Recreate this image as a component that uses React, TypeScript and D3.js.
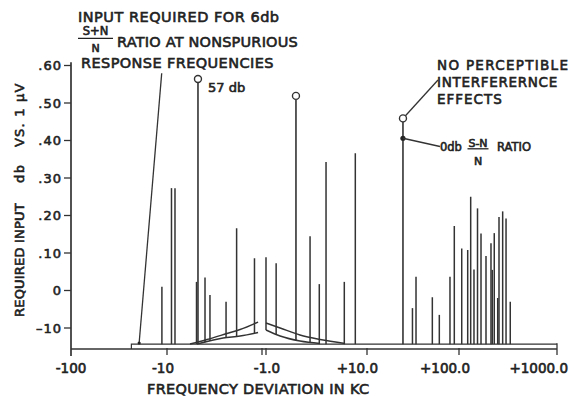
import React from "react";
import * as d3 from "d3";

// ---------- data ----------
const xTickValues = [-100, -10, -1, 1, 10, 100, 1000];
const xTickLabels = ["-100", "-10", "-1.0", "", "+10.0", "+100.0", "+1000.0"];
const yTickValues = [60, 50, 40, 30, 20, 10, 0, -10];
const yTickLabels = [".60", ".50", ".40", ".30", ".20", ".10", "0", "–10"];

// spurious responses (frequency deviation in kc, required input db)
const spikeFreq = [
  -11.3, -8.97, -8.24, -4.89, -3.98, -3.53, -2.39, -1.85, -1.2, 1.0, 1.26,
  2.73, 3.37, 3.93, 5.96, 7.66, 31.2, 34.1, 51.3, 61.1, 79.8, 88.9, 106.6,
  122.7, 131.6, 142.2, 154.5, 167.7, 188.6, 212, 218.6, 229, 248.3, 256, 279,
  302, 333.5,
];
const spikeDb = [
  1.0, 27.3, 27.3, 2.3, 3.5, -1.2, -3.0, 16.6, 8.6, 8.9, 7.3, 14.5, 1.7, 34.3,
  2.3, 36.6, -4.7, 3.7, -1.8, -6.5, 3.7, 17.2, 11.2, 10.8, 25.0, 5.6, 21.9,
  15.2, 9.2, 12.6, 5.5, 15.3, -2.0, 19.6, 21.1, 19.2, -3.0,
];

// responses marked with open circles
const markedFreq = [-4.72, 1.98, 24.6];
const markedDb = [56.4, 51.9, 45.9];
// 0 db (S-N)/N point
const zeroSnFreq = 24.6;
const zeroSnDb = 40.6;

// selectivity (non-spurious) curves
const leftUpperFreq = [-5.73, -3.79, -2.34, -1.7, -1.1];
const leftUpperDb = [-14.27, -13.07, -11.47, -10.4, -8.4];
const leftLowerFreq = [-4.83, -2.57, -1.7, -1.1];
const leftLowerDb = [-14.27, -12.67, -12.13, -11.2];
const rightUpperFreq = [1.0, 1.38, 2.17, 3.43, 6.06];
const rightUpperDb = [-8.67, -10.0, -11.87, -13.07, -14.13];
const rightLowerFreq = [1.0, 1.38, 2.17, 3.43];
const rightLowerDb = [-10.53, -12.13, -13.47, -14.13];

const floorDb = -14.3;
const bandStartFreq = -23.5;
const axisBottomDb = -15.6;
const axisTopDb = 60.9;
const leaderEndFreq = -19.5;
const leaderEndDb = -14.0;

// ---------- scales ----------
const GAP = 0.04;
const toU = (f: number) => (f < 0 ? -Math.log10(-f) : Math.log10(f) + GAP);
const xu = d3
  .scaleLinear()
  .domain(xTickValues.map(toU))
  .range([71, 167, 262, 266, 367, 459, 557]);
const x = (f: number) => xu(toU(f));
const y = d3.scaleLinear().domain([-10, 60]).range([328, 65.5]);

const INK = "#222";
const LINE = "#333";
const FONT = "DejaVu Sans";

function interp(fs: number[], ds: number[], f: number): number | null {
  const px = x(f);
  const xs = fs.map(x);
  const lo = Math.min(xs[0], xs[xs.length - 1]);
  const hi = Math.max(xs[0], xs[xs.length - 1]);
  if (px < lo || px > hi) return null;
  const s = d3.scaleLinear().domain(xs).range(ds).clamp(true);
  return s(px);
}
function baseAt(f: number) {
  const a = interp(leftLowerFreq, leftLowerDb, f);
  if (a !== null) return a;
  const b = interp(rightLowerFreq, rightLowerDb, f);
  if (b !== null) return b;
  return floorDb;
}

const curve = d3
  .line<[number, number]>()
  .x((d) => x(d[0]))
  .y((d) => y(d[1]))
  .curve(d3.curveMonotoneX);

const T = (props: any) => (
  <text
    fontFamily={FONT}
    fill={INK}
    stroke={INK}
    strokeWidth={0.6}
    {...props}
  />
);

export default function App() {
  const yAxisX = x(-100);
  const axisY = y(axisBottomDb);
  const curves = [
    [leftUpperFreq, leftUpperDb],
    [leftLowerFreq, leftLowerDb],
    [rightUpperFreq, rightUpperDb],
    [rightLowerFreq, rightLowerDb],
  ].map(([fs, ds]) => curve(fs.map((f, i) => [f, ds[i]] as [number, number])));

  const bigX = x(zeroSnFreq);
  return (
    <svg
      width={576}
      height={396}
      viewBox="0 0 576 396"
      style={{ position: "absolute", left: 0, top: 0, background: "#fff" }}
    >
      <rect x={0} y={0} width={576} height={396} fill="#fff" />
      {/* axes */}
      <line x1={yAxisX} x2={yAxisX} y1={y(axisTopDb)} y2={axisY + 7} stroke={LINE} strokeWidth={1.7} />
      <line x1={yAxisX} x2={x(1000)} y1={axisY} y2={axisY} stroke={LINE} strokeWidth={1.7} />
      {yTickValues.map((v, i) => (
        <g key={"yt" + i}>
          <line x1={yAxisX - 7} x2={yAxisX} y1={y(v)} y2={y(v)} stroke={LINE} strokeWidth={1.3} />
          <T x={yAxisX - 9} y={y(v) + 4.5} fontSize={13} textAnchor="end" letterSpacing={1}>
            {yTickLabels[i]}
          </T>
        </g>
      ))}
      {xTickValues.map((v, i) =>
        i === 0 ? null : (
          <line
            key={"xt" + i}
            x1={x(v)}
            x2={x(v)}
            y1={i === xTickValues.length - 1 ? y(floorDb) - 1 : axisY - 1}
            y2={axisY + 6}
            stroke={LINE}
            strokeWidth={1.3}
          />
        )
      )}
      {xTickValues.map((v, i) => (
        <T
          key={"xl" + i}
          x={v > 1 ? x(v) + 11 : x(v) + (v === -1 ? 5 : v === -10 ? -4 : 0)}
          y={373}
          fontSize={13.5}
          textAnchor={v > 1 ? "end" : "middle"}
        >
          {xTickLabels[i]}
        </T>
      ))}
      {/* floor band */}
      <path
        d={`M${x(bandStartFreq)},${axisY}V${y(floorDb)}H${x(1000)}`}
        fill="none"
        stroke={LINE}
        strokeWidth={1.2}
      />
      {/* selectivity curves */}
      {curves.map((d, i) => (
        <path key={"c" + i} d={d || ""} fill="none" stroke={LINE} strokeWidth={1.4} />
      ))}
      {/* spikes */}
      {spikeFreq.map((f, i) => (
        <line
          key={"s" + i}
          x1={x(f)}
          x2={x(f)}
          y1={y(baseAt(f))}
          y2={y(spikeDb[i])}
          stroke={LINE}
          strokeWidth={1.5}
        />
      ))}
      {markedFreq.map((f, i) => (
        <g key={"m" + i}>
          <line x1={x(f)} x2={x(f)} y1={y(baseAt(f))} y2={y(markedDb[i]) + 3.5} stroke={LINE} strokeWidth={1.6} />
          <circle cx={x(f)} cy={y(markedDb[i])} r={3.5} fill="#fff" stroke={LINE} strokeWidth={1.4} />
        </g>
      ))}
      <circle cx={bigX} cy={y(zeroSnDb)} r={2.6} fill={INK} />

      {/* top-left annotation */}
      <T x={78} y={21.5} fontSize={14.5} letterSpacing={0.5}>INPUT REQUIRED FOR 6db</T>
      <T x={95.5} y={35} fontSize={11.5} textAnchor="middle">S+N</T>
      <line x1={78} x2={113} y1={38.3} y2={38.3} stroke={INK} strokeWidth={1.3} />
      <T x={95.5} y={52} fontSize={11} textAnchor="middle">N</T>
      <T x={117} y={46.5} fontSize={14.5} letterSpacing={0.2}>RATIO AT NONSPURIOUS</T>
      <T x={81} y={68.3} fontSize={14.5} letterSpacing={0.4}>RESPONSE FREQUENCIES</T>
      <line x1={161.7} y1={73.3} x2={x(leaderEndFreq)} y2={y(leaderEndDb)} stroke={LINE} strokeWidth={1.3} />
      <circle cx={x(leaderEndFreq)} cy={y(leaderEndDb)} r={1.6} fill={INK} />
      <T x={208} y={92} fontSize={13}>57 db</T>

      {/* right annotation */}
      <T x={437} y={70} fontSize={13.5} letterSpacing={1.3}>NO PERCEPTIBLE</T>
      <T x={437} y={86.7} fontSize={13.5} letterSpacing={0.7}>INTERFERERNCE</T>
      <T x={437} y={104} fontSize={13.5} letterSpacing={1}>EFFECTS</T>
      <line x1={438} y1={80} x2={bigX + 2.5} y2={y(markedDb[2]) - 2.6} stroke={LINE} strokeWidth={1.3} />
      <line x1={bigX} y1={y(zeroSnDb)} x2={440} y2={146.5} stroke={LINE} strokeWidth={1.3} />
      <T x={440} y={150.5} fontSize={11.5}>0db</T>
      <T x={478} y={146.5} fontSize={11} textAnchor="middle">S-N</T>
      <line x1={467.5} x2={488.5} y1={148.8} y2={148.8} stroke={INK} strokeWidth={1.3} />
      <T x={478} y={165} fontSize={11} textAnchor="middle">N</T>
      <T x={497} y={150.5} fontSize={11.5}>RATIO</T>

      {/* axis titles */}
      <T x={147} y={394} fontSize={14.5} letterSpacing={0.3}>FREQUENCY DEVIATION IN KC</T>
      <g transform="translate(24,317) rotate(-90)">
        <T x={0} y={0} fontSize={13} letterSpacing={0.2}>REQUIRED INPUT</T>
        <T x={134} y={0} fontSize={13} letterSpacing={1.5}>db</T>
        <T x={170} y={0} fontSize={13} letterSpacing={1.2}>VS. 1 μV</T>
      </g>
    </svg>
  );
}
